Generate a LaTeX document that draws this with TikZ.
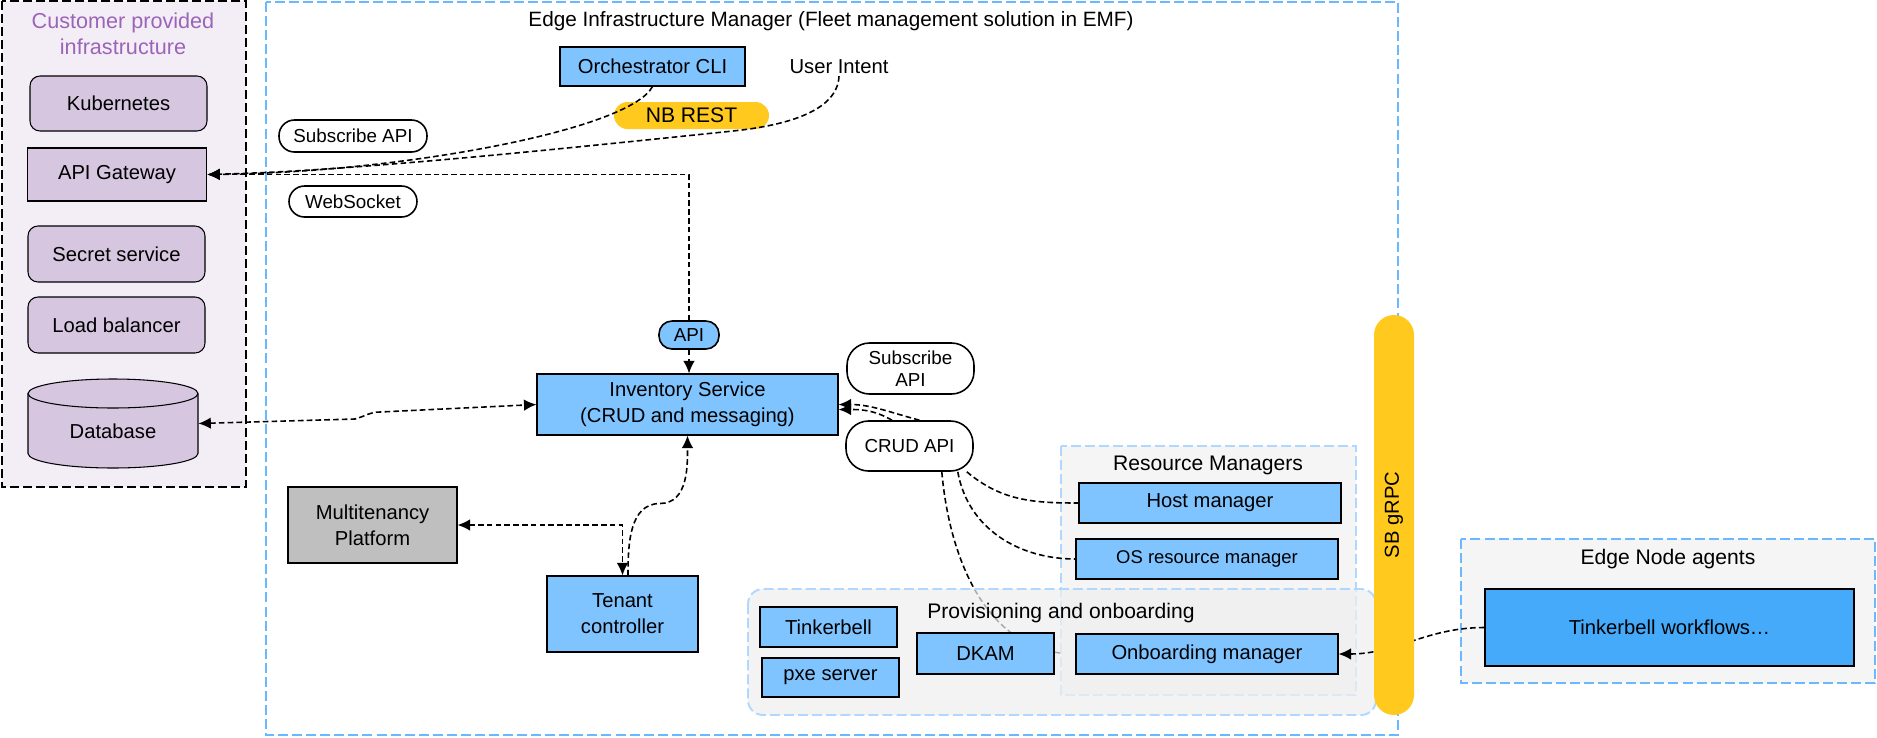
\documentclass[tikz,border=0pt]{standalone}
\usepackage{fontspec}
\setmainfont{Liberation Sans}
\usetikzlibrary{arrows.meta}
\pgfdeclarelayer{sotto}
\pgfdeclarelayer{sfondo}
\pgfsetlayers{sotto,sfondo,main}
\definecolor{azzurro}{HTML}{80C4FF}
\definecolor{blu}{HTML}{45AAFA}
\definecolor{giallo}{HTML}{FFC91E}
\definecolor{lilla}{HTML}{D6C6E0}
\definecolor{lillachiaro}{HTML}{F3EEF6}
\definecolor{viola}{HTML}{9B64B8}
\definecolor{bordoblu}{HTML}{6AB8FF}
\definecolor{bordochiaro}{HTML}{B0D8FF}
\definecolor{grigio}{HTML}{BFBFBF}
\definecolor{grigino}{HTML}{F5F5F5}
\definecolor{grigiochiaro}{HTML}{EFEFEF}

\begin{document}
\begin{tikzpicture}[
    every node/.style={font=\fontsize{11.5}{14.7}\selectfont},
    box/.style={draw, line width=0.6pt, inner sep=0pt, align=center},
    pill/.style={draw, line width=0.9pt, fill=white, rounded corners=0.31cm, inner sep=0pt, align=center, font=\fontsize{10.7}{12.5}\selectfont},
    titolo/.style={font=\fontsize{12}{14}\selectfont},
    conn/.style={line width=0.9pt, dash pattern=on 3.2pt off 1.8pt},
    freccia/.style={conn, -{Latex[length=2.5mm,width=2.3mm]}},
    frecce/.style={conn, {Latex[length=2.5mm,width=2.3mm]}-{Latex[length=2.5mm,width=2.3mm]}},
    contenitore/.style={draw=bordoblu, line width=1.1pt, dash pattern=on 5.7pt off 2.3pt},
    contenitorechiaro/.style={draw=bordochiaro, line width=1.1pt, dash pattern=on 5.7pt off 2.3pt}
    ]
    \useasboundingbox (0,0) rectangle (37.54,-14.74);
    %infrastruttura del cliente
    \node[text=viola, align=center, font=\fontsize{12.3}{14.7}\selectfont] (titolocliente) at (2.46,-0.68) {Customer provided\\infrastructure};
    \node[box, fill=lilla, rounded corners=0.2cm, minimum width=3.54cm, minimum height=1.10cm] (kube) at (2.37,-2.07) {Kubernetes};
    \node[box, fill=lilla, minimum width=3.59cm, minimum height=1.06cm] (gw) at (2.34,-3.49) {API Gateway};
    \node[box, fill=lilla, rounded corners=0.2cm, minimum width=3.54cm, minimum height=1.12cm] (secret) at (2.33,-5.08) {Secret service};
    \node[box, fill=lilla, rounded corners=0.2cm, minimum width=3.54cm, minimum height=1.12cm] (lb) at (2.33,-6.50) {Load balancer};
    \node[minimum width=3.40cm, minimum height=1.78cm, inner sep=0pt] (db) at (2.26,-8.47) {};
    \filldraw[fill=lilla, line width=0.6pt] (0.56,-7.87) -- (0.56,-9.07) arc[start angle=180, end angle=360, x radius=1.70cm, y radius=0.29cm] -- (3.96,-7.87) arc[start angle=0, end angle=180, x radius=1.70cm, y radius=0.29cm] -- cycle;
    \draw[line width=0.6pt] (0.56,-7.87) arc[start angle=180, end angle=360, x radius=1.70cm, y radius=0.29cm];
    \node (dbtesto) at (2.26,-8.62) {Database};
    %Edge Infrastructure Manager
    \node[font=\fontsize{11.8}{14}\selectfont] (titoloeim) at (16.62,-0.42) {Edge Infrastructure Manager (Fleet management solution in EMF)};
    \node[box, fill=azzurro, minimum width=3.70cm, minimum height=0.78cm] (cli) at (13.05,-1.33) {Orchestrator CLI};
    \node[inner sep=1pt] (intento) at (16.78,-1.34) {User Intent};
    \node[fill=giallo, rounded corners=0.27cm, minimum width=3.10cm, minimum height=0.54cm, inner sep=0pt, font=\fontsize{12}{14}\selectfont] (nbrest) at (13.83,-2.31) {NB REST};
    \node[pill, minimum width=2.96cm, minimum height=0.64cm] (subscr) at (7.06,-2.72) {Subscribe API};
    \node[pill, minimum width=2.56cm, minimum height=0.62cm] (websock) at (7.06,-4.03) {WebSocket};
    \node[pill, fill=azzurro, rounded corners=0.26cm, minimum width=1.20cm, minimum height=0.56cm] (api) at (13.78,-6.70) {API};
    \node[box, fill=azzurro, minimum width=6.02cm, minimum height=1.22cm] (inv) at (13.75,-8.09) {Inventory Service\\(CRUD and messaging)};
    \node[pill, rounded corners=0.45cm, minimum width=2.54cm, minimum height=1.02cm] (subscr2) at (18.21,-7.37) {Subscribe\\API};
    \node[pill, rounded corners=0.45cm, minimum width=2.54cm, minimum height=1.00cm] (crud) at (18.19,-8.92) {CRUD API};
    \node[box, fill=grigio, minimum width=3.38cm, minimum height=1.52cm] (multi) at (7.45,-10.50) {Multitenancy\\Platform};
    \node[box, fill=azzurro, minimum width=3.02cm, minimum height=1.52cm] (tenant) at (12.45,-12.28) {Tenant\\controller};
    %resource managers
    \node[titolo] (titolorm) at (24.16,-9.30) {Resource Managers};
    \node[box, fill=azzurro, minimum width=5.24cm, minimum height=0.80cm] (host) at (24.20,-10.06) {Host manager};
    \node[box, fill=azzurro, minimum width=5.24cm, minimum height=0.80cm, font=\fontsize{10.5}{12}\selectfont] (os) at (24.14,-11.18) {OS resource manager};
    %provisioning
    \node[titolo] (titoloprov) at (21.22,-12.26) {Provisioning and onboarding};
    \node[box, fill=azzurro, minimum width=2.74cm, minimum height=0.80cm] (tinker) at (16.57,-12.54) {Tinkerbell};
    \node[box, fill=azzurro, minimum width=2.74cm, minimum height=0.78cm] (pxe) at (16.61,-13.55) {pxe server};
    \node[box, fill=azzurro, minimum width=2.74cm, minimum height=0.82cm] (dkam) at (19.71,-13.07) {DKAM};
    \node[box, fill=azzurro, minimum width=5.24cm, minimum height=0.80cm] (onb) at (24.14,-13.08) {Onboarding manager};
    %edge node
    \node[titolo] (titoloedge) at (33.36,-11.18) {Edge Node agents};
    \node[box, fill=blu, minimum width=7.38cm, minimum height=1.54cm] (tw) at (33.39,-12.55) {Tinkerbell workflows…};
    %riquadri
    \begin{pgfonlayer}{sfondo}
        \draw[line width=1.1pt, dash pattern=on 5pt off 2.4pt, fill=lillachiaro] (0.04,-0.02) rectangle (4.92,-9.74); %cliente
        \draw[contenitore] (5.32,-0.04) rectangle (27.96,-14.70); %EIM
        \draw[contenitorechiaro, fill=grigino] (21.22,-8.92) rectangle (27.12,-13.90); %resource managers
        \draw[contenitorechiaro, fill=grigiochiaro, fill opacity=0.72, rounded corners=0.3cm] (14.96,-11.78) rectangle (27.52,-14.30); %provisioning
        \draw[contenitore, fill=grigino] (29.22,-10.78) rectangle (37.50,-13.66); %edge node
    \end{pgfonlayer}
    %connettori
    \draw[freccia] (cli.south) .. controls (12.6,-2.6) and (8.0,-3.45) .. (gw.east);
    \draw[freccia] (intento.south) .. controls (16.75,-2.2) and (15.8,-2.5) .. (14.66,-2.62) .. controls (11,-3.0) and (7,-3.42) .. (gw.east);
    \draw[freccia] (api.north) |- (gw.east);
    \draw[freccia] (api.south) -- (api.south |- inv.north);
    \draw[frecce] (db.east) -- (7.1,-8.38) to[out=15,in=180] (7.6,-8.24) -- (inv.west);
    \draw[frecce] (multi.east) -| (tenant.north);
    \draw[freccia] ([xshift=0.11cm]tenant.north) to[out=90,in=180] (13.2,-10.07) to[out=0,in=-90] (inv.south);
    \draw[freccia] ([xshift=0.2cm]crud.north) to[out=165,in=0] (inv.east);
    \draw[freccia] ([xshift=-0.35cm]crud.north) to[out=150,in=0] ([yshift=-0.1cm]inv.east);
    \draw[conn] ([xshift=-0.14cm]crud.south east) to[out=-40,in=180] (host.west);
    \draw[conn] ([xshift=-0.32cm]crud.south east) to[out=-80,in=180] (os.west);
    \begin{pgfonlayer}{sotto}
        \draw[conn] ([xshift=-0.64cm]crud.south east) to[out=-85,in=180] (onb.west);
    \end{pgfonlayer}
    \draw[freccia] (tw.west) to[out=180,in=0] (onb.east);
    %SB gRPC
    \node[fill=giallo, rounded corners=0.4cm, rotate=90, minimum width=8cm, minimum height=0.80cm, inner sep=0pt] (sbgrpc) at (27.88,-10.30) {SB gRPC};
\end{tikzpicture}
\end{document}
